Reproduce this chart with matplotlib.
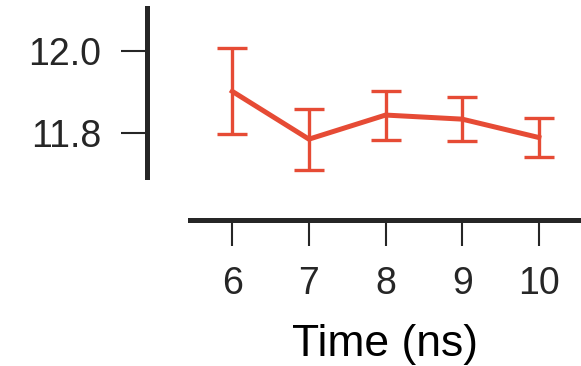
import matplotlib
matplotlib.use("Agg")
import matplotlib.pyplot as plt

plt.rcParams["font.family"] = ["Liberation Sans", "DejaVu Sans"]

tid = [6, 7, 8, 9, 10]
verdi = [11.902, 11.785, 11.844, 11.834, 11.789]
feil = [0.105, 0.075, 0.06, 0.053, 0.047]

farge = "#e64b35"
svart = "#262626"

fig = plt.figure(figsize=(5.81, 3.66), dpi=100)
ax = fig.add_axes([0.327, 0.516, 0.671, 0.462])

ax.errorbar(tid, verdi, yerr=feil, color=farge, linewidth=3.6,
            elinewidth=2.4, capsize=10.5, capthick=2.4)

ax.set_xlim(5.448, 10.535)
ax.set_ylim(11.692, 12.106)
ax.set_xticks(tid)
ax.set_yticks([11.8, 12.0])
ax.set_yticklabels(["11.8", "12.0"])

for side in ["top", "right"]:
    ax.spines[side].set_visible(False)
ax.spines["left"].set_position(("outward", 31))
ax.spines["bottom"].set_position(("outward", 31))
ax.spines["left"].set_linewidth(3.6)
ax.spines["bottom"].set_linewidth(3.6)
ax.spines["left"].set_color(svart)
ax.spines["bottom"].set_color(svart)

ax.tick_params(axis="both", length=19, width=1.5, color=svart,
               labelsize=27, labelcolor=svart, pad=14)
ax.set_xlabel("Time (ns)", fontsize=32, color="black", labelpad=16)

fig.savefig("out.png", dpi=100)
